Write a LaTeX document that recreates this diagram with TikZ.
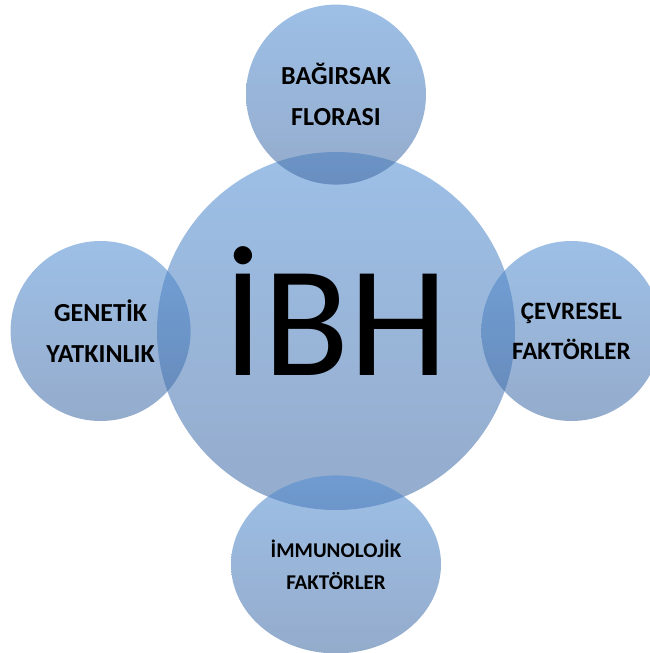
\documentclass[tikz,border=0pt]{standalone}
\usepackage{fontspec}
\setmainfont{Carlito}
\usetikzlibrary{positioning,shapes.geometric}
\definecolor{venntop}{RGB}{83,143,211}
\definecolor{vennbot}{RGB}{67,108,165}
\begin{document}
\begin{tikzpicture}[x=1pt,y=-1pt,
venn/.style={top color=venntop,bottom color=vennbot,fill opacity=0.57,
text opacity=1,inner sep=0pt,align=center},
sat/.style={venn,circle,minimum size=180pt,
font=\fontsize{26}{41}\selectfont\bfseries}]
\useasboundingbox (0,0) rectangle (649,653);
\node[venn,circle,minimum size=358pt] (ibh) at (336,331) {};
\node[sat,above=-33pt of ibh] (flora) {BAĞIRSAK\\FLORASI};
\node[sat,left=-34pt of ibh] (genetik) {GENETİK\\YATKINLIK};
\node[sat,right=-34pt of ibh,font=\fontsize{25}{40}\selectfont\bfseries] (cevre)
{ÇEVRESEL\\FAKTÖRLER};
\node[venn,ellipse,minimum width=210pt,minimum height=178pt,below=-35pt of ibh,
font=\fontsize{21}{32}\selectfont\bfseries] (immun) {İMMUNOLOJİK\\FAKTÖRLER};
\node[anchor=base,inner sep=0pt,font=\fontsize{158}{158}\selectfont] (ibhtext)
at ([yshift=-44pt]ibh.center) {İBH};
\end{tikzpicture}
\end{document}
